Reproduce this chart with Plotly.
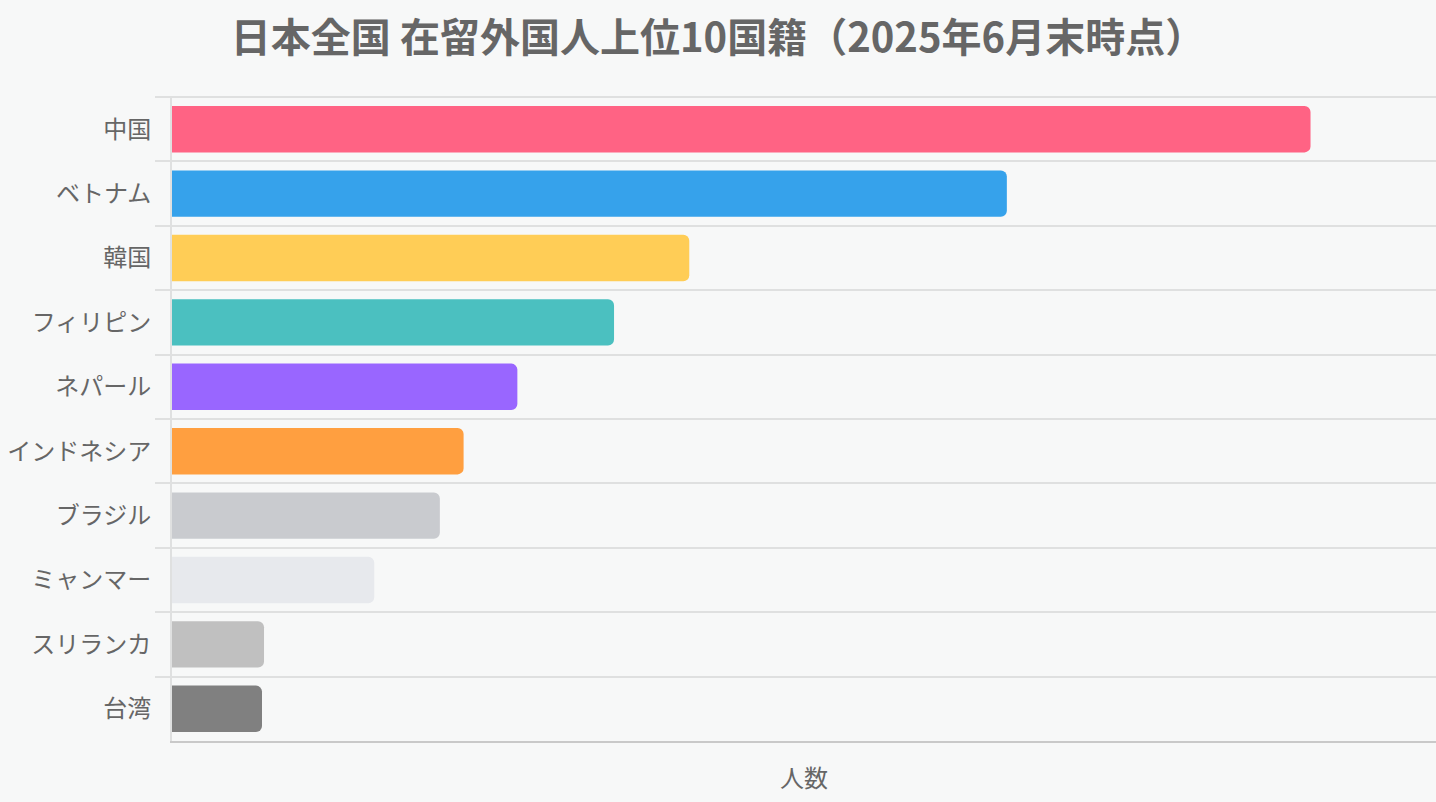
import plotly.graph_objects as go

# Data: top 10 nationalities of foreign residents in Japan (end of June 2025)
countries = ['中国', 'ベトナム', '韓国', 'フィリピン', 'ネパール',
             'インドネシア', 'ブラジル', 'ミャンマー', 'スリランカ', '台湾']
residents = [900738, 660483, 409238, 349714, 273229,
             230689, 211907, 160000, 72800, 71200]
bar_colors = ['#ff6384', '#36a2eb', '#ffcd56', '#4bc0c0', '#9966ff',
              '#ff9f40', '#c9cbcf', '#e7e9ed', '#c0c0c0', '#808080']

bg = '#f7f8f8'
grid = '#dfe0e0'
text_color = '#666666'
font_family = 'Noto Sans CJK JP, Noto Sans, sans-serif'

fig = go.Figure()
fig.add_trace(go.Bar(
    x=residents,
    y=countries,
    orientation='h',
    marker=dict(color=bar_colors, cornerradius=6, line=dict(width=0)),
    hovertemplate='%{y}: %{x:,}人<extra></extra>',
))

fig.update_layout(
    width=1436, height=802,
    paper_bgcolor=bg, plot_bgcolor=bg,
    margin=dict(l=172, r=0, t=97, b=61),
    bargap=0.28,
    showlegend=False,
    font=dict(family=font_family, color=text_color, size=24),
    title=dict(
        text='<b>日本全国 在留外国人上位10国籍（2025年6月末時点）</b>',
        x=0.5, xanchor='center',
        y=1 - 38 / 802, yanchor='middle', yref='container',
        font=dict(size=40, color=text_color, family=font_family),
    ),
)

# top border of the plot area, drawn like the other grid lines
fig.add_shape(type='line', xref='paper', yref='paper',
              x0=-15 / 1264, x1=1, y0=1, y1=1,
              line=dict(color=grid, width=2), layer='below')

fig.update_xaxes(
    range=[0, 1000000],
    showticklabels=False,
    showgrid=False,
    zeroline=False,
    showline=True, linecolor='#c9c9c9', linewidth=2,
    ticks='',
    title=dict(text='人数', standoff=28, font=dict(size=24, color=text_color)),
)

fig.update_yaxes(
    autorange='reversed',
    tickson='boundaries',
    ticks='outside', ticklen=15, tickcolor=grid, tickwidth=2,
    ticklabelstandoff=14,
    showgrid=True, gridcolor=grid, gridwidth=2,
    showline=True, linecolor=grid, linewidth=2,
    zeroline=False,
    tickfont=dict(size=24, color=text_color),
)

fig.write_html('out.html', config={'displayModeBar': False},
               post_script="document.body.style.margin='0px';")
